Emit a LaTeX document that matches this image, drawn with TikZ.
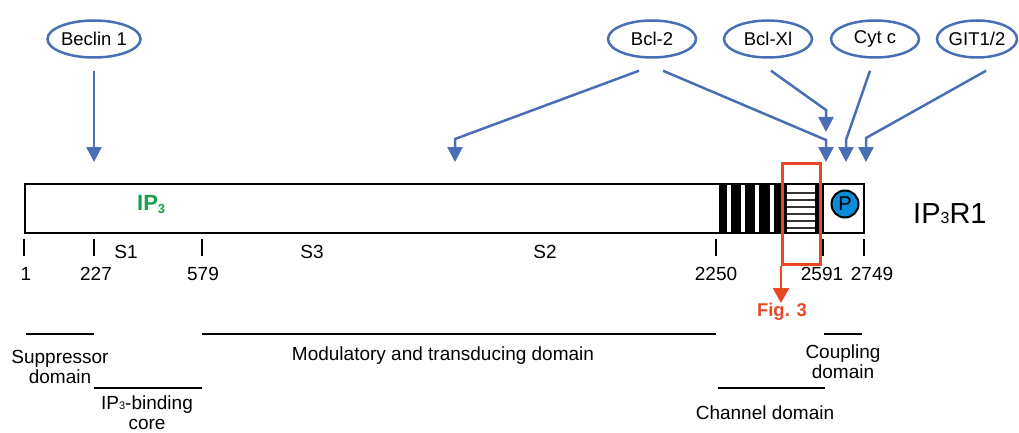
\documentclass[tikz,border=0pt]{standalone}
\usepackage{fontspec}
\setmainfont{Liberation Sans}
\usetikzlibrary{arrows.meta,shapes.geometric}
\definecolor{lblue}{RGB}{74,110,180}
\definecolor{fred}{RGB}{233,72,38}
\definecolor{ipgreen}{RGB}{24,160,72}
\definecolor{pblue}{RGB}{10,140,214}
\begin{document}
\begin{tikzpicture}[x=1pt,y=-1pt,
  ell/.style={ellipse,draw=lblue,line width=2.5pt,minimum width=88pt,minimum height=37pt,inner sep=0pt,font=\fontsize{18.5}{20}\selectfont},
  barrow/.style={draw=lblue,line width=2.5pt,-{Triangle[width=15pt,length=15pt]}},
  tickmark/.style={line width=2.5pt},
  domline/.style={line width=2pt},
  lbl/.style={font=\fontsize{19}{20}\selectfont,inner sep=0pt,align=center},
  stripe/.style={fill=black},
]
\useasboundingbox (0,0) rectangle (1019,433);

% top ellipses
\node[ell] (beclin) at (94,39) {Beclin 1};
\node[ell] (bcl2) at (652,39) {Bcl-2};
\node[ell] (bclxl) at (768,39) {Bcl-Xl};
\node[ell] (cytc) at (875,39) {Cyt c};
\node[ell,minimum width=80pt] (git) at (977,39) {GIT1/2};

% bar
\node[draw,line width=2pt,minimum width=839pt,minimum height=49pt,inner sep=0pt,anchor=north west] (bar) at (24,183) {};
\fill[stripe] (719,183) rectangle (727,232);
\fill[stripe] (731,183) rectangle (741,232);
\fill[stripe] (745,183) rectangle (755,232);
\fill[stripe] (759,183) rectangle (770,232);
\fill[stripe] (774,183) rectangle (787,232);
\fill[stripe] (815,183) rectangle (819,232);
\foreach \yy in {193,200,207,214,221,228}
  \draw[line width=1.5pt,black!80] (787,\yy) -- (815,\yy);
\draw[line width=2.5pt] (823,183) -- (823,232);
\node[circle,draw,line width=2pt,fill=pblue,minimum size=27pt,inner sep=0pt,font=\fontsize{20}{22}\selectfont] (p) at (845,204) {P};

\node[font=\bfseries\fontsize{22}{24}\selectfont,text=ipgreen,anchor=base west,inner sep=0pt] (ip3) at (137,210) {IP\raisebox{-3pt}{\fontsize{13}{13}\selectfont 3}};
\node[anchor=base west,inner sep=0pt,font=\fontsize{29}{30}\selectfont] (ipr) at (913,223) {IP{\fontsize{16}{16}\selectfont 3}R1};

% red box and arrow
\node[draw=fred,line width=2.5pt,minimum width=38pt,minimum height=101pt,anchor=north west,inner sep=0pt] (figbox) at (781,162) {};
\coordinate (figtip) at (781,303);
\draw[fred,line width=2.5pt,-{Triangle[width=16pt,length=15pt]}] (figbox.south west) -- (figtip);
\node[font=\bfseries\fontsize{18.5}{20}\selectfont,text=fred,inner sep=0pt] (fig) at (782,312) {Fig. 3};

% ticks and numbers
\foreach \xx in {24,94,202,716,823,864}
  \draw[tickmark] (\xx,239) -- (\xx,256);
\node[lbl] (n1) at (26,274) {1};
\node[lbl] (n227) at (96,274) {227};
\node[lbl] (n579) at (203,274) {579};
\node[lbl] (n2250) at (716,274) {2250};
\node[lbl] (n2591) at (822,274) {2591};
\node[lbl] (n2749) at (872,274) {2749};
\node[lbl] (s1) at (126,252) {S1};
\node[lbl] (s3) at (312,252) {S3};
\node[lbl] (s2) at (545,252) {S2};

% domains
\draw[domline] (26,334) -- (94,334);
\draw[domline] (202,334) -- (716,334);
\draw[domline] (824,334) -- (862,334);
\draw[domline] (94,388) -- (202,388);
\draw[domline] (718,388) -- (825,388);
\node[lbl] (supp) at (60,367) {Suppressor\\domain};
\node[lbl] (ipb) at (147,413) {IP{\fontsize{11}{11}\selectfont 3}-binding\\core};
\node[lbl] (mod) at (443,356) {Modulatory and transducing domain};
\node[lbl] (coup) at (843,362) {Coupling\\domain};
\node[lbl] (chan) at (765,413) {Channel domain};

% blue arrows
\coordinate (tbec) at (94,162);
\coordinate (b2lbend) at (455,139);
\coordinate (b2ltip) at (455,162);
\coordinate (b2rbend) at (826,140);
\coordinate (b2rtip) at (826,162);
\coordinate (xlbend) at (826,110);
\coordinate (xltip) at (826,132);
\coordinate (cybend) at (846,140);
\coordinate (cytip) at (846,162);
\coordinate (gibend) at (866,138);
\coordinate (gitip) at (866,162);
\draw[barrow] ([yshift=-12pt]beclin.south) -- (tbec);
\draw[barrow] ([shift={(-13pt,-12pt)}]bcl2.south) -- (b2lbend) -- (b2ltip);
\draw[barrow] ([shift={(11pt,-12pt)}]bcl2.south) -- (b2rbend) -- (b2rtip);
\draw[barrow] ([shift={(3pt,-12pt)}]bclxl.south) -- (xlbend) -- (xltip);
\draw[barrow] ([shift={(-5pt,-12pt)}]cytc.south) -- (cybend) -- (cytip);
\draw[barrow] ([shift={(9pt,-12pt)}]git.south) -- (gibend) -- (gitip);
\end{tikzpicture}
\end{document}
